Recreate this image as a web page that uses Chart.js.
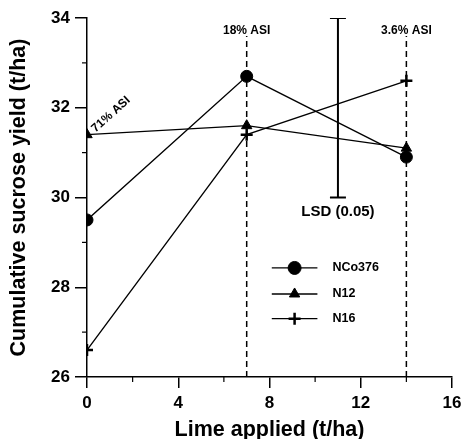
<!DOCTYPE html>
<html>
<head>
<meta charset="utf-8">
<script src="https://cdn.jsdelivr.net/npm/chart.js@4.4.0/dist/chart.umd.min.js"></script>
<style>
  html, body { margin: 0; padding: 0; background: #fff; }
  #wrap { width: 462px; height: 439px; }
</style>
</head>
<body>
<div id="wrap"><canvas id="grafico"></canvas></div>
<script>
// dados
const limeApplied = [0, 7, 14];
const nco376 = [29.5, 32.7, 30.9];
const n12 = [31.4, 31.6, 31.1];
const n16 = [26.6, 31.4, 32.6];
const seriesNames = ['NCo376', 'N12', 'N16'];
const asiLabels = ['71% ASI', '18% ASI', '3.6% ASI'];
const asiDashTop = 33.6;
const lsdX = 11;
const lsdLow = 30;
const lsdHigh = 34;
const xMinorTicks = [2, 6, 10, 14];
const yMinorTicks = [27, 29, 31, 33];

const FONT = '"Liberation Sans", Arial, sans-serif';

function pts(xs, ys) {
    return xs.map((x, i) => ({ x: x, y: ys[i] }));
}

function serie(label, data, style, radius) {
    return {
        label: label,
        data: pts(limeApplied, data),
        showLine: true,
        borderColor: '#000',
        backgroundColor: '#000',
        borderWidth: 1.3,
        pointStyle: style,
        pointRadius: radius,
        pointBorderWidth: style === 'cross' ? 2.5 : 1,
        pointBorderColor: '#000',
        pointBackgroundColor: '#000'
    };
}

function dashLine(x) {
    return {
        label: 'asi' + x,
        data: [{ x: x, y: 26 }, { x: x, y: asiDashTop }],
        showLine: true,
        borderColor: '#000',
        borderWidth: 1.5,
        borderDash: [6, 4],
        pointRadius: 0
    };
}

// legenda, textos e ticks menores
const extras = {
    id: 'extras',
    afterDraw(chart) {
        const ctx = chart.ctx;
        const xs = chart.scales.x;
        const ys = chart.scales.y;
        ctx.save();
        ctx.strokeStyle = '#000';
        ctx.lineWidth = 1.2;
        // ticks menores
        xMinorTicks.forEach(v => {
            const px = xs.getPixelForValue(v);
            ctx.beginPath();
            ctx.moveTo(px, ys.bottom);
            ctx.lineTo(px, ys.bottom + 5);
            ctx.stroke();
        });
        yMinorTicks.forEach(v => {
            const py = ys.getPixelForValue(v);
            ctx.beginPath();
            ctx.moveTo(xs.left - 5, py);
            ctx.lineTo(xs.left, py);
            ctx.stroke();
        });

        ctx.fillStyle = '#000';
        // textos ASI
        ctx.font = 'bold 12px ' + FONT;
        ctx.textAlign = 'center';
        ctx.textBaseline = 'middle';
        const topY = ys.getPixelForValue(asiDashTop) - 5;
        ctx.fillText(asiLabels[1], xs.getPixelForValue(limeApplied[1]), topY);
        ctx.fillText(asiLabels[2], xs.getPixelForValue(limeApplied[2]), topY);
        ctx.save();
        ctx.translate(xs.getPixelForValue(1.05), ys.getPixelForValue(31.85));
        ctx.rotate(-42 * Math.PI / 180);
        ctx.fillText(asiLabels[0], 0, 0);
        ctx.restore();

        // LSD
        ctx.font = 'bold 15px ' + FONT;
        ctx.fillText('LSD (0.05)', xs.getPixelForValue(lsdX), ys.getPixelForValue(lsdLow) + 14);

        // legenda
        const styles = ['circle', 'triangle', 'cross'];
        const radii = [6.5, 6, 6];
        const lx0 = xs.getPixelForValue(8.1);
        const lx1 = xs.getPixelForValue(10.1);
        const lm = (lx0 + lx1) / 2;
        const rows = [28.43, 27.85, 27.3];
        ctx.font = 'bold 12.5px ' + FONT;
        ctx.textAlign = 'left';
        rows.forEach((r, i) => {
            const py = ys.getPixelForValue(r);
            ctx.lineWidth = 1.3;
            ctx.beginPath();
            ctx.moveTo(lx0, py);
            ctx.lineTo(lx1, py);
            ctx.stroke();
            ctx.lineWidth = styles[i] === 'cross' ? 2.5 : 1;
            Chart.helpers.drawPoint(ctx, {
                pointStyle: styles[i], radius: radii[i], borderWidth: ctx.lineWidth, rotation: 0
            }, lm, py);
            ctx.fillText(seriesNames[i], lx1 + 15, py);
        });
        ctx.restore();
    }
};

window.addEventListener('DOMContentLoaded', () => {
    const cv = document.getElementById('grafico');
    new Chart(cv, {
        type: 'scatter',
        data: {
            datasets: [
                dashLine(limeApplied[1]),
                dashLine(limeApplied[2]),
                {
                    label: 'lsd',
                    data: [{ x: lsdX, y: lsdLow }, { x: lsdX, y: lsdHigh }],
                    showLine: true,
                    borderColor: '#000',
                    borderWidth: 2,
                    pointStyle: 'line',
                    pointRadius: 8,
                    pointBorderWidth: 2,
                    pointBorderColor: '#000'
                },
                serie(seriesNames[0], nco376, 'circle', 6),
                serie(seriesNames[1], n12, 'triangle', 6),
                serie(seriesNames[2], n16, 'cross', 6)
            ]
        },
        options: {
            responsive: true,
            maintainAspectRatio: false,
            animation: false,
            layout: { padding: { top: 18, right: 6, left: 0, bottom: 0 } },
            plugins: {
                legend: { display: false },
                tooltip: { enabled: false }
            },
            scales: {
                x: {
                    type: 'linear',
                    min: 0,
                    max: 16,
                    afterFit(s) { s.height = 62; s.paddingRight = 0; s.paddingLeft = 0; },
                    border: { color: '#000', width: 1.5 },
                    grid: { drawOnChartArea: false, drawTicks: true, tickLength: 11, color: '#000', lineWidth: 1.5 },
                    ticks: { stepSize: 4, color: '#000', padding: 5, font: { family: FONT, size: 17, weight: 'bold' } },
                    title: {
                        display: true,
                        text: 'Lime applied (t/ha)',
                        color: '#000',
                        padding: { top: 0, bottom: -4 },
                        font: { family: FONT, size: 21.5, weight: 'bold' }
                    }
                },
                y: {
                    min: 26,
                    max: 34,
                    afterFit(s) { s.width = 87; s.paddingTop = 0; s.paddingBottom = 0; },
                    border: { color: '#000', width: 1.5 },
                    grid: { drawOnChartArea: false, drawTicks: true, tickLength: 12, color: '#000', lineWidth: 1.5 },
                    ticks: { stepSize: 2, color: '#000', padding: 5, font: { family: FONT, size: 17, weight: 'bold' } },
                    title: {
                        display: true,
                        text: 'Cumulative sucrose yield (t/ha)',
                        color: '#000',
                        padding: { top: 6, bottom: 0 },
                        font: { family: FONT, size: 21.5, weight: 'bold' }
                    }
                }
            }
        },
        plugins: [extras]
    });
});
</script>
</body>
</html>
